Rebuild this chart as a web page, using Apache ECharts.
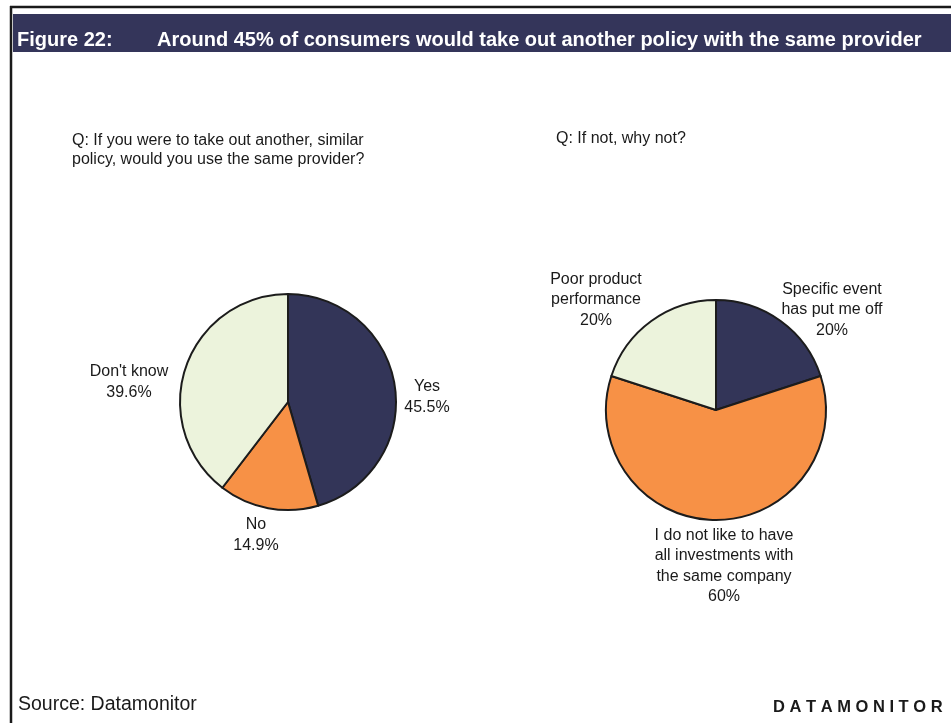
<!DOCTYPE html>
<html>
<head>
<meta charset="utf-8">
<title>Figure 22</title>
<script src="https://cdn.jsdelivr.net/npm/echarts@6/dist/echarts.min.js"></script>
<style>
  html, body { margin: 0; padding: 0; background: #ffffff; }
  #chart { width: 951px; height: 723px; }
</style>
</head>
<body>
<div id="chart"></div>
<script>
// Survey answers: would you use the same provider again?
const providerCategories = ['Yes', 'No', "Don't know"];
const providerValues = [45.5, 14.9, 39.6];

// Reasons given by those who would not
const reasonCategories = [
  'Specific event\nhas put me off',
  'I do not like to have\nall investments with\nthe same company',
  'Poor product\nperformance'
];
const reasonValues = [20, 60, 20];

const sliceColors = ['#333558', '#f79146', '#ecf3dc'];
const FONT = 'Liberation Sans, Arial, Helvetica, sans-serif';

// Label anchor points (text centre) for each slice, per pie
const labelAnchors = [
  [[427, 397], [256, 535], [129, 382]],
  [[832, 310], [724, 566], [596, 300]]
];

const chart = echarts.init(document.getElementById('chart'), null, { renderer: 'canvas' });

function pieSeries(names, values, center, radius, seriesIndex) {
  return {
    type: 'pie',
    center: center,
    radius: radius,
    startAngle: 90,
    clockwise: true,
    avoidLabelOverlap: false,
    silent: true,
    data: names.map((n, i) => ({
      name: n,
      value: values[i],
      itemStyle: { color: sliceColors[i] }
    })),
    itemStyle: { borderColor: '#1c1c1c', borderWidth: 2 },
    label: {
      show: true,
      position: 'outside',
      formatter: '{b}\n{c}%',
      fontFamily: FONT,
      fontSize: 16,
      lineHeight: 20.5,
      color: '#1a1a1a',
      align: 'center'
    },
    labelLine: { show: false },
    labelLayout: function (p) {
      const a = labelAnchors[seriesIndex][p.dataIndex];
      return { x: a[0], y: a[1], align: 'center', verticalAlign: 'middle' };
    }
  };
}

chart.setOption({
  backgroundColor: '#ffffff',
  animation: false,
  graphic: [
    // frame
    { type: 'line', shape: { x1: 10, y1: 7, x2: 951, y2: 7 }, style: { stroke: '#1a1a1a', lineWidth: 2.5 } },
    { type: 'line', shape: { x1: 11, y1: 6, x2: 11, y2: 723 }, style: { stroke: '#1a1a1a', lineWidth: 2.5 } },
    // title band
    { type: 'rect', shape: { x: 13, y: 14, width: 938, height: 38 }, style: { fill: '#34355a' } },
    { type: 'text', left: 17, top: 30, style: { text: 'Figure 22:', fill: '#ffffff', font: 'bold 20px ' + FONT } },
    { type: 'text', left: 157, top: 30, style: { text: 'Around 45% of consumers would take out another policy with the same provider', fill: '#ffffff', font: 'bold 20px ' + FONT } },
    // questions
    { type: 'text', left: 72, top: 131, style: { text: 'Q: If you were to take out another, similar\npolicy, would you use the same provider?', fill: '#1a1a1a', font: '16px ' + FONT, lineHeight: 19 } },
    { type: 'text', left: 556, top: 131, style: { text: 'Q: If not, why not?', fill: '#1a1a1a', font: '16px ' + FONT } },
    // footer
    { type: 'text', left: 18, top: 695, style: { text: 'Source: Datamonitor', fill: '#1a1a1a', font: '19.5px ' + FONT } },
    { type: 'text', left: 773, top: 699, style: { text: 'D A T A M O N I T O R', fill: '#1a1a1a', font: 'bold 16.5px ' + FONT } }
  ],
  series: [
    pieSeries(providerCategories, providerValues, [288, 402], 108, 0),
    pieSeries(reasonCategories, reasonValues, [716, 410], 110, 1)
  ]
});
</script>
</body>
</html>
